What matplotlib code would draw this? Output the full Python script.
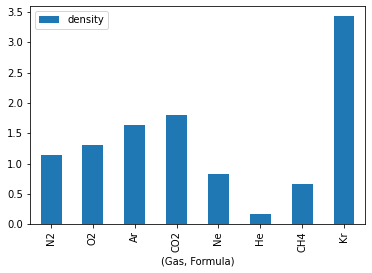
import pandas as pd
import matplotlib
matplotlib.use("Agg")
from matplotlib import pyplot as plt

gases = ["N2", "O2", "Ar", "CO2", "Ne", "He", "CH4", "Kr"]
density = [1.145, 1.31, 1.64, 1.80, 0.83, 0.17, 0.665, 3.43]

df = pd.DataFrame({"density": density}, index=pd.Index(gases, name="(Gas, Formula)"))

fig = plt.figure(figsize=(372 / 72, 273 / 72), dpi=72)
ax = fig.add_axes([0.081, 0.179, 0.90, 0.799])
df.plot(kind="bar", ax=ax)
ax.legend(loc="upper left")
fig.savefig("out.png", dpi=72)
